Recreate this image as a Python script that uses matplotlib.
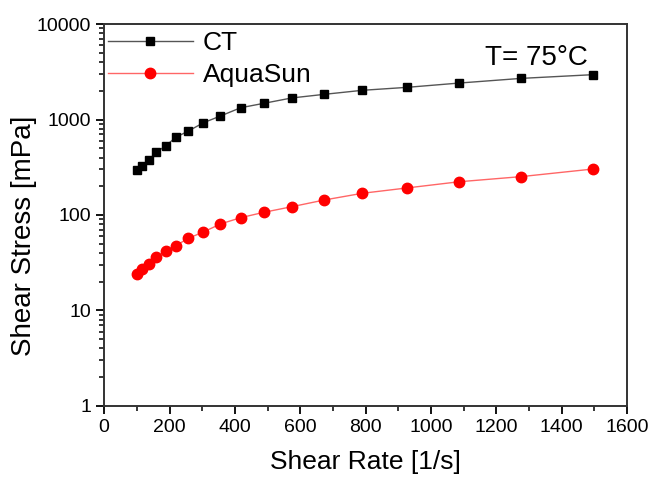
import matplotlib
matplotlib.use("Agg")
import matplotlib.pyplot as plt
from matplotlib.ticker import LogLocator, MultipleLocator, NullFormatter, FixedLocator, FixedFormatter

plt.rcParams['font.family'] = ['Liberation Sans', 'DejaVu Sans']

# --- datos ---
shear_rate = [100, 115, 136, 159, 189, 219, 258, 304, 356, 418, 489, 574, 674, 790, 927, 1087, 1275, 1496]
ct_stress = [296, 328, 374, 453, 532, 650, 759, 926, 1089, 1330, 1479, 1683, 1837, 2024, 2174, 2412, 2697, 2952]
aqua_stress = [24.1, 27.4, 30.7, 36.1, 41.7, 47.7, 57, 66.4, 80.5, 93.7, 106.7, 122, 143.6, 168.7, 192, 223, 252, 303]

y_ticks = [1, 10, 100, 1000, 10000]
y_labels = ["1", "10", "100", "1000", "10000"]

fig = plt.figure(figsize=(6.51, 4.82), dpi=100)
ax = fig.add_axes([0.16, 0.158, 0.803, 0.792])

ax.plot(shear_rate, ct_stress, color='#555555', lw=1, marker='s', ms=6,
        mfc='black', mec='black', label='CT')
ax.plot(shear_rate, aqua_stress, color='#ff6666', lw=1, marker='o', ms=7.5,
        mfc='red', mec='red', label='AquaSun')

ax.set_yscale('log')
ax.set_xlim(0, 1600)
ax.set_ylim(1, 10000)
ax.yaxis.set_major_locator(FixedLocator(y_ticks))
ax.yaxis.set_major_formatter(FixedFormatter(y_labels))
ax.yaxis.set_minor_locator(LogLocator(base=10, subs=range(2, 10)))
ax.yaxis.set_minor_formatter(NullFormatter())
ax.xaxis.set_major_locator(MultipleLocator(200))
ax.xaxis.set_minor_locator(MultipleLocator(100))

ax.tick_params(which='major', direction='out', length=6, width=1.3, labelsize=14, colors='black')
ax.tick_params(which='minor', direction='out', length=3.5, width=1.1)
for s in ax.spines.values():
    s.set_linewidth(1.4)
    s.set_color('#333333')

ax.set_xlabel("Shear Rate [1/s]", fontsize=19, labelpad=10)
ax.set_ylabel("Shear Stress [mPa]", fontsize=20)
ax.yaxis.set_label_coords(-0.128, 0.445)

ax.text(0.925, 0.945, "T= 75°C", transform=ax.transAxes, ha='right', va='top', fontsize=20)

leg = ax.legend(loc='upper left', bbox_to_anchor=(0.005, 0.985), frameon=False, fontsize=19,
                handlelength=3.2, handletextpad=0.4, borderaxespad=0.0, borderpad=0.05,
                labelspacing=0.3)

fig.savefig("out.png", dpi=100)
